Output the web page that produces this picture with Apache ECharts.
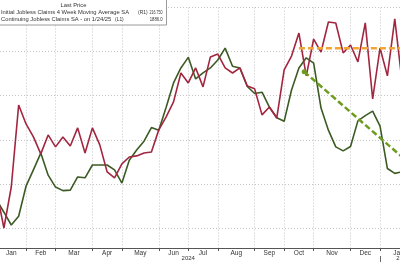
<!DOCTYPE html>
<html><head><meta charset="utf-8">
<script src="https://cdn.jsdelivr.net/npm/echarts@6/dist/echarts.min.js"></script>
<style>html,body{margin:0;padding:0;background:#fff;overflow:hidden}#c{width:400px;height:262px}</style>
</head><body><div id="c"></div>
<script>
// ---- data ----
const weeks = [
 '2024-01-05','2024-01-12','2024-01-19','2024-01-26',
 '2024-02-02','2024-02-09','2024-02-16','2024-02-23',
 '2024-03-01','2024-03-08','2024-03-15','2024-03-22','2024-03-29',
 '2024-04-05','2024-04-12','2024-04-19','2024-04-26',
 '2024-05-03','2024-05-10','2024-05-17','2024-05-24','2024-05-31',
 '2024-06-07','2024-06-14','2024-06-21','2024-06-28',
 '2024-07-05','2024-07-12','2024-07-19','2024-07-26',
 '2024-08-02','2024-08-09','2024-08-16','2024-08-23','2024-08-30',
 '2024-09-06','2024-09-13','2024-09-20','2024-09-27',
 '2024-10-04','2024-10-11','2024-10-18','2024-10-25',
 '2024-11-01','2024-11-08','2024-11-15','2024-11-22','2024-11-29',
 '2024-12-06','2024-12-13','2024-12-20','2024-12-27',
 '2025-01-03','2025-01-10','2025-01-17','2025-01-24'
];
const continuingClaims = [
 1836.8,1820.0,1838.6,1875.8,1867.2,1861.3,1853.6,1862.2,1856.8,1861.3,
 1857.2,1865.4,1854.0,1865.4,1857.7,1845.4,1842.7,1849.1,1852.2,1852.7,
 1854.0,1854.5,1864.5,1870.4,1877.2,1890.3,1885.8,1892.6,1884.0,1897.6,
 1898.9,1892.6,1890.3,1892.6,1884.4,1883.1,1871.3,1874.9,1869.9,1891.7,
 1898.0,1908.4,1889.0,1905.7,1899.8,1913.4,1913.0,1899.4,1903.0,1895.3,
 1913.0,1878.5,1901.6,1889.0,1914.8,1886.0
];
const initialClaims4wk = [
 210.4,207.6,204.7,206.7,213.5,217.2,221.0,216.0,213.3,212.5,
 212.6,215.6,215.4,218.3,218.3,218.3,217.2,214.2,219.4,221.7,
 223.7,226.8,226.2,231.4,236.9,240.3,242.7,237.8,239.2,240.3,
 242.1,244.8,240.7,240.3,236.1,234.5,234.8,231.4,229.0,228.2,
 235.3,240.3,242.6,241.4,231.2,226.2,222.4,221.5,222.5,228.3,
 229.5,230.5,227.1,217.5,216.4,216.75
];
const continuingTrendDates = ['2024-10-18','2025-01-24'];
const continuingTrendValues = [1901.5,1901.5];
const initialTrendDates = ['2024-10-23','2025-01-24'];
const initialTrendValues = [239.45,220.1];

const monthBounds = ['2024-01-05','2024-02-02','2024-03-01','2024-04-05','2024-05-03','2024-06-07',
 '2024-07-05','2024-08-02','2024-09-06','2024-10-04','2024-11-01','2024-12-06','2025-01-03','2025-02-07'];
const monthLabels = ['Jan','Feb','Mar','Apr','May','Jun','Jul','Aug','Sep','Oct','Nov','Dec','Jan'];
const yearBounds = ['2024-01-05','2025-01-03','2025-02-07'];
const yearLabels = ['2024','2025'];

const nameInitial = 'Initial Jobless Claims 4 Week Moving Average SA';
const tagInitial = '(R1)';
const nameContinuing = 'Continuing Jobless Claims SA - on 1/24/25';
const tagContinuing = '(L1)';
const headerText = 'Last Price';

// ---- helpers ----
const DAY = 86400000;
const ts = s => { const p = s.split('-').map(Number); return Date.UTC(p[0], p[1]-1, p[2]); };
const xMin = ts('2024-01-08') + 0.298 * DAY;
const xMax = ts('2025-01-21') + 0.958 * DAY;

const monthTickTs = monthBounds.map(ts);
const monthLabelTs = monthLabels.map((m, i) => (monthTickTs[i] + monthTickTs[i+1]) / 2);
const yearTs = yearBounds.map(ts);
const yearLabelTs = yearLabels.map((y, i) => (yearTs[i] + yearTs[i+1]) / 2);
const inRange = v => v >= xMin && v <= xMax;
const lookup = (arrTs, arrLab) => v => {
  let best = 0, bd = Infinity;
  arrTs.forEach((t, i) => { const d = Math.abs(t - v); if (d < bd) { bd = d; best = i; } });
  return arrLab[best];
};

const FONT = 'Liberation Sans, Arial, sans-serif';
const TXT = '#333';
const GRID = '#c4c4c4';
const RED = '#a2263f';
const GREEN = '#3c5b24';

const chart = echarts.init(document.getElementById('c'), null, {renderer: 'canvas', width: 400, height: 262});
const lastInit = initialClaims4wk[initialClaims4wk.length - 1];
const lastCont = continuingClaims[continuingClaims.length - 1];

const legendText = (x, y, text, align, sx) => ({
  type: 'text', z: 101, x: x, y: y, scaleX: sx || 1,
  style: {x: 0, y: 0, text: text, fontSize: 5.8, fontFamily: FONT, fill: TXT, align: align, verticalAlign: 'middle'}
});

chart.setOption({
  animation: false,
  backgroundColor: '#fff',
  grid: {left: 0, right: 0, top: 7.5, bottom: 14, containLabel: false, outerBoundsMode: 'none'},
  xAxis: [{
    type: 'value', min: xMin, max: xMax, position: 'bottom', scale: true,
    axisLine: {show: true, lineStyle: {color: '#555', width: 1}},
    axisTick: {show: true, customValues: monthTickTs.filter(inRange), length: 3, lineStyle: {color: '#555'}},
    axisLabel: {customValues: monthLabelTs.filter(inRange), formatter: lookup(monthLabelTs, monthLabels),
      fontSize: 6.5, color: TXT, fontFamily: FONT, margin: 1.5, hideOverlap: false, showMinLabel: true, showMaxLabel: true},
    splitLine: {show: true, lineStyle: {color: GRID, type: [1, 2], width: 1}}
  }, {
    type: 'value', min: xMin, max: xMax, position: 'bottom', offset: 8, scale: true,
    axisLine: {show: false},
    axisTick: {show: true, customValues: [yearTs[1]], length: 6, lineStyle: {color: '#666'}},
    axisLabel: {customValues: yearLabelTs.filter(inRange),
      formatter: v => { const l = lookup(yearLabelTs, yearLabels)(v); return l === '2025' ? '{r|' + l + '}' : l; },
      rich: {r: {padding: [0, 0, 0, 9], fontSize: 6, color: TXT, fontFamily: FONT}},
      fontSize: 6, color: TXT, fontFamily: FONT, margin: -0.5, hideOverlap: false},
    splitLine: {show: false}
  }],
  yAxis: [{
    type: 'value', min: 1810.93, max: 1920, splitNumber: 5, position: 'left',
    axisLine: {show: false}, axisTick: {show: false}, axisLabel: {show: false},
    splitLine: {show: true, lineStyle: {color: GRID, type: [1, 2], width: 1}}
  }, {
    type: 'value', min: 199.49, max: 254, position: 'right',
    axisLine: {show: false}, axisTick: {show: false}, axisLabel: {show: false},
    splitLine: {show: false}
  }],
  series: [{
    name: nameInitial, type: 'line', yAxisIndex: 1,
    data: weeks.map((d, i) => [ts(d), initialClaims4wk[i]]),
    showSymbol: false, symbol: 'none', clip: true,
    lineStyle: {color: GREEN, width: 1.6}, itemStyle: {color: GREEN}, z: 3
  }, {
    name: nameContinuing, type: 'line', yAxisIndex: 0,
    data: weeks.map((d, i) => [ts(d), continuingClaims[i]]),
    showSymbol: false, symbol: 'none', clip: true,
    lineStyle: {color: RED, width: 1.6}, itemStyle: {color: RED}, z: 4
  }, {
    name: 'Continuing trend', type: 'line', yAxisIndex: 0,
    data: continuingTrendDates.map((d, i) => [ts(d), continuingTrendValues[i]]),
    showSymbol: false, symbol: 'none', clip: true,
    lineStyle: {color: '#f2a533', width: 2.5, type: [6, 3]}, z: 5
  }, {
    name: 'Initial trend', type: 'line', yAxisIndex: 1,
    data: initialTrendDates.map((d, i) => ({value: [ts(d), initialTrendValues[i]], symbol: i === 0 ? 'circle' : 'none', symbolSize: 5})),
    showSymbol: true, clip: true,
    lineStyle: {color: '#6e9c1f', width: 2.5, type: [6, 3]}, itemStyle: {color: '#6e9c1f', borderWidth: 0}, z: 5
  }],
  graphic: [
    {type: 'rect', z: 100, shape: {x: -1, y: -1, width: 167.5, height: 26}, style: {fill: '#fff', stroke: '#9a9a9a', lineWidth: 1}},
    legendText(73.5, 5.5, headerText, 'center'),
    legendText(1, 12, nameInitial, 'left'),
    legendText(138, 12, tagInitial, 'left', 0.85),
    legendText(162.5, 12, lastInit.toFixed(3), 'right', 0.62),
    legendText(1, 19, nameContinuing, 'left'),
    legendText(115, 19, tagContinuing, 'left', 0.85),
    legendText(162.5, 19, lastCont.toFixed(1), 'right', 0.72)
  ]
});
</script>
</body></html>
